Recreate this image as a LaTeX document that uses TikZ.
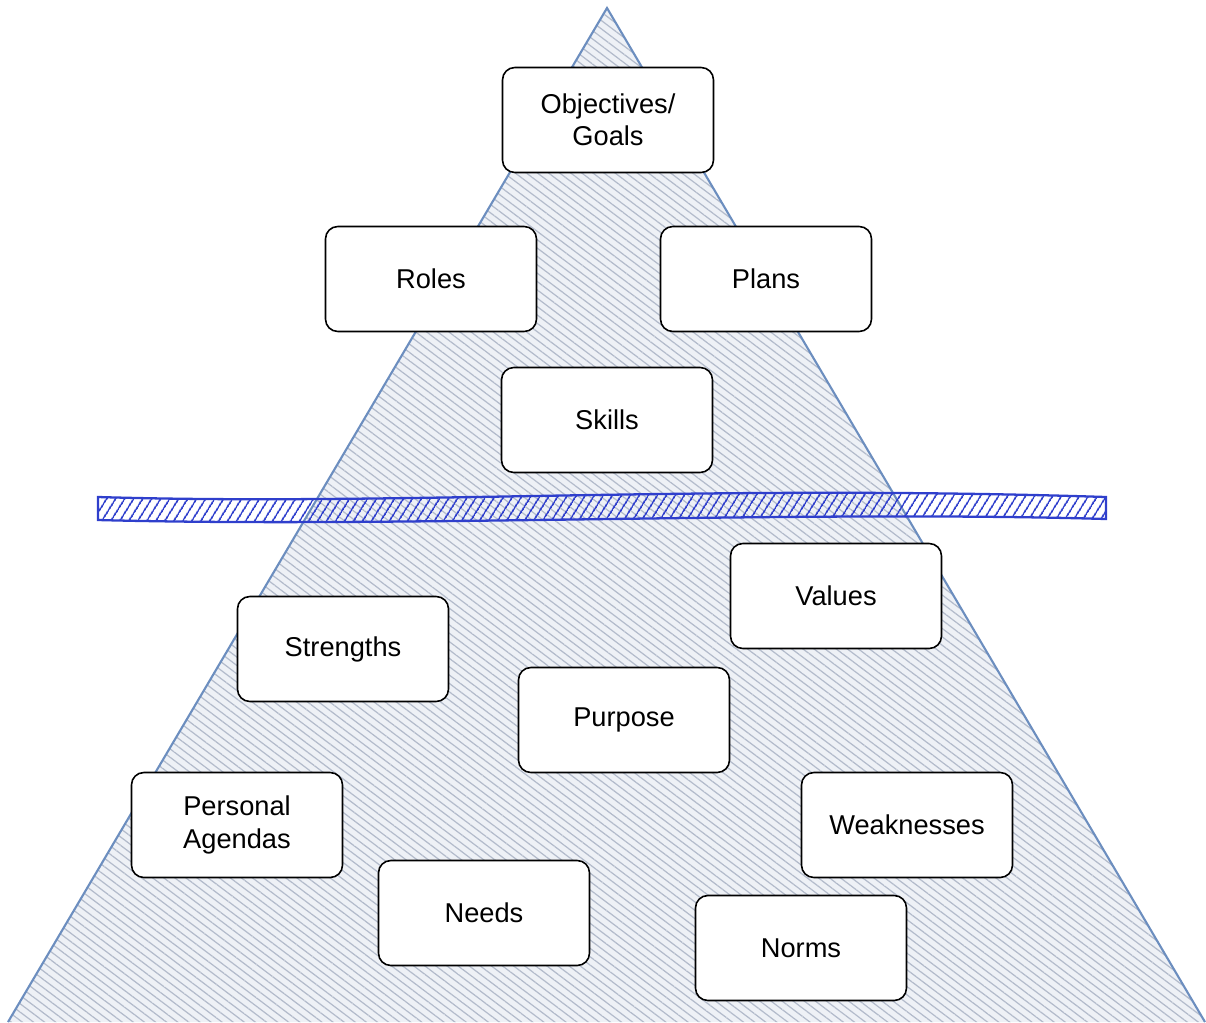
\documentclass[tikz,border=0pt]{standalone}
\usepackage{fontspec}
\setmainfont{Liberation Sans}
\usetikzlibrary{patterns.meta}
\definecolor{edgeblue}{HTML}{6C8EBF}
\definecolor{hatchgrey}{HTML}{B3BBCB}
\definecolor{shadegrey}{HTML}{EEF1F6}
\definecolor{bandblue}{HTML}{2F3FCC}

\begin{document}
\begin{tikzpicture}[x=0.02cm, y=-0.02cm,
  card/.style={draw, line width=0.9pt, fill=white, rounded corners=7pt,
    minimum width=4.22cm, minimum height=2.1cm, align=center,
    font=\fontsize{15.5}{18.5}\selectfont}]
  \useasboundingbox (0,0) rectangle (1206,1022);

  % pyramid
  \coordinate (top) at (607,8);
  \coordinate (bl) at (8,1022);
  \coordinate (br) at (1205,1022);
  \fill[shadegrey] (bl) -- (top) -- (br) -- cycle;
  \fill[pattern={Lines[angle=-37,distance=3.8pt,line width=0.7pt]},
        pattern color=hatchgrey] (bl) -- (top) -- (br) -- cycle;
  \draw[edgeblue, line width=1.2pt] (bl) -- (top) -- (br);

  % waterline
  \filldraw[draw=bandblue, line width=1.3pt,
        pattern={Lines[angle=58,distance=4pt,line width=0.9pt]},
        pattern color=bandblue]
    (98,497) .. controls (400,506) and (700,484) .. (1106,497)
    -- (1106,519) .. controls (800,510) and (400,528) .. (98,520) -- cycle;

  % above the line
  \node[card] (goals) at (608,120) {Objectives/\\Goals};
  \node[card] (roles) at (431,279) {Roles};
  \node[card] (plans) at (766,279) {Plans};
  \node[card] (skills) at (607,420) {Skills};

  % below the line
  \node[card] (values) at (836,596) {Values};
  \node[card] (strengths) at (343,649) {Strengths};
  \node[card] (purpose) at (624,720) {Purpose};
  \node[card] (agendas) at (237,825) {Personal\\Agendas};
  \node[card] (weak) at (907,825) {Weaknesses};
  \node[card] (needs) at (484,913) {Needs};
  \node[card] (norms) at (801,948) {Norms};

\end{tikzpicture}
\end{document}
